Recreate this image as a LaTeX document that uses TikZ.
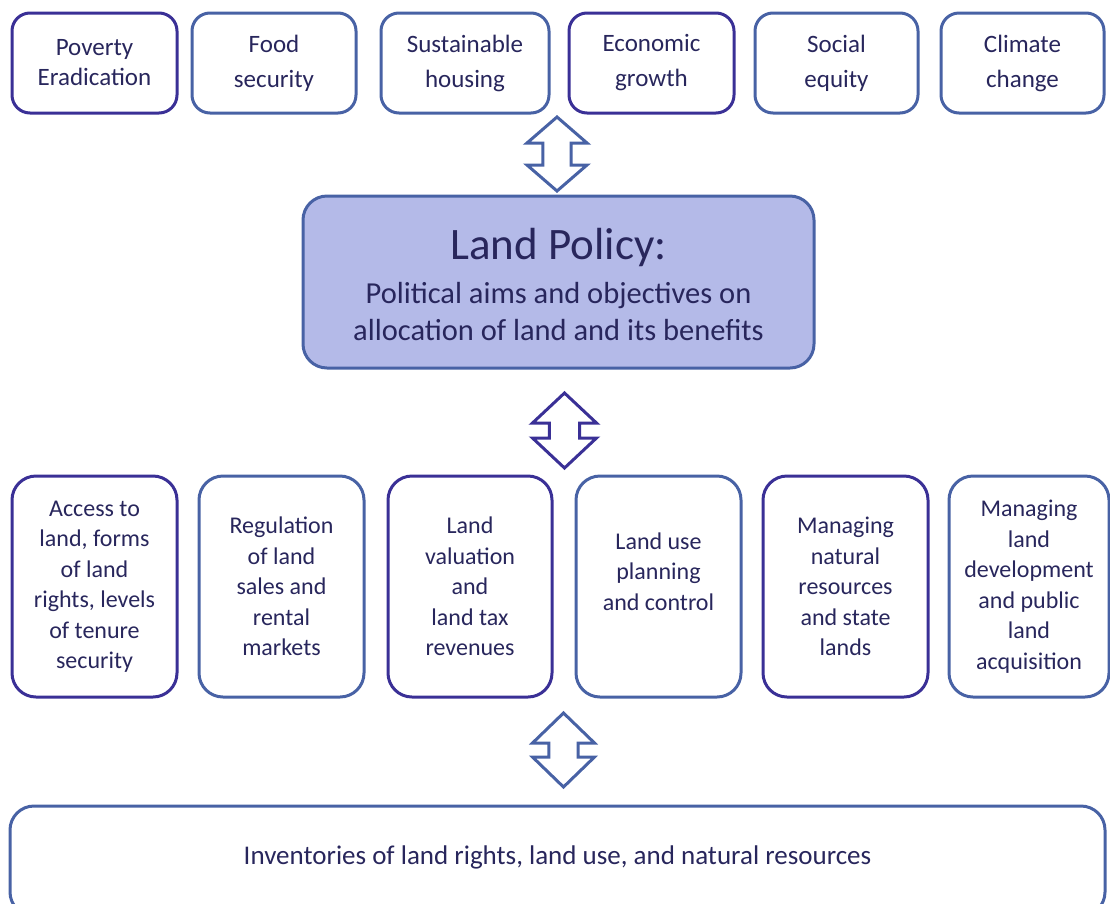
\documentclass[tikz,border=0pt]{standalone}
\usepackage{fontspec}
\setmainfont{Carlito}
\definecolor{pur}{RGB}{58,48,150}
\definecolor{blu}{RGB}{72,98,165}
\definecolor{txt}{RGB}{40,38,92}
\definecolor{lpfill}{RGB}{180,186,232}
\newcommand{\DblArrow}[6]{% colour, cx, ytop, ybot, half width, head height
  \draw[draw=#1, line width=3pt, line join=miter, fill=white]
    (#2,#3) -- ({#2+#5},{#3+#6}) -- ({#2+0.47*#5},{#3+#6}) -- ({#2+0.47*#5},{#4-#6})
    -- ({#2+#5},{#4-#6}) -- (#2,#4) -- ({#2-#5},{#4-#6}) -- ({#2-0.47*#5},{#4-#6})
    -- ({#2-0.47*#5},{#3+#6}) -- ({#2-#5},{#3+#6}) -- cycle;}
\begin{document}
\begin{tikzpicture}[x=1pt,y=-1pt,
  box/.style={draw, rounded corners=18pt, line width=3pt, align=center, text=txt, inner sep=0pt},
  topbox/.style={box, minimum height=100pt, font=\fontsize{25}{35}\selectfont},
  botbox/.style={box, rounded corners=24pt, minimum height=221pt, font=\fontsize{24}{30.5}\selectfont},
]
\useasboundingbox (0,0) rectangle (1110,903);
\clip (0,0) rectangle (1110,903);
% top row
\node[topbox, draw=pur, minimum width=165pt, font=\fontsize{25}{30}\selectfont] (pov) at (94.5,63) {Poverty\\Eradication};
\node[topbox, draw=blu, minimum width=164pt] (food) at (274,63) {Food\\security};
\node[topbox, draw=blu, minimum width=168pt] (hous) at (465,63) {Sustainable\\housing};
\node[topbox, draw=pur, minimum width=165pt] (econ) at (651.5,63) {Economic\\growth};
\node[topbox, draw=blu, minimum width=163pt] (soc) at (836.5,63) {Social\\equity};
\node[topbox, draw=blu, minimum width=163pt] (clim) at (1022.5,63) {Climate\\change};
% central box
\node[box, draw=blu, fill=lpfill, minimum width=511pt, minimum height=172pt, rounded corners=24pt] (lp) at (558.5,282) {};
\node[text=txt, font=\fontsize{45}{48}\selectfont] (lpt) at (558.5,247) {Land Policy:};
\node[text=txt, align=center, font=\fontsize{30.5}{37}\selectfont] (lps) at (558.5,312) {Political aims and objectives on\\allocation of land and its benefits};
% bottom row
\node[botbox, draw=pur, minimum width=165pt] (acc) at (94.5,586.5) {Access to\\land, forms\\of land\\rights, levels\\of tenure\\security};
\node[botbox, draw=blu, minimum width=165pt] (reg) at (281.5,586.5) {Regulation\\of land\\sales and\\rental\\markets};
\node[botbox, draw=pur, minimum width=164pt] (val) at (470,586.5) {Land\\valuation\\and\\land tax\\revenues};
\node[botbox, draw=blu, minimum width=165pt] (use) at (658.5,586.5) {Land use\\planning\\and control\\\mbox{}};
\node[botbox, draw=pur, minimum width=165pt] (nat) at (845.5,586.5) {Managing\\natural\\resources\\and state\\lands};
\node[botbox, draw=blu, minimum width=160pt] (dev) at (1029,586.5) {Managing\\land\\development\\and public\\land\\acquisition};
% inventories
\node[box, draw=blu, rounded corners=24pt, minimum width=1095pt, minimum height=110pt] (inv) at (557.5,861) {};
\node[text=txt, font=\fontsize{27}{30}\selectfont] (invt) at (557.5,857) {Inventories of land rights, land use, and natural resources};
% double arrows
\DblArrow{blu}{557}{117}{191}{30}{26}
\DblArrow{pur}{564.5}{393}{468}{32}{30}
\DblArrow{blu}{563.5}{713}{787}{31}{30}
\end{tikzpicture}
\end{document}
